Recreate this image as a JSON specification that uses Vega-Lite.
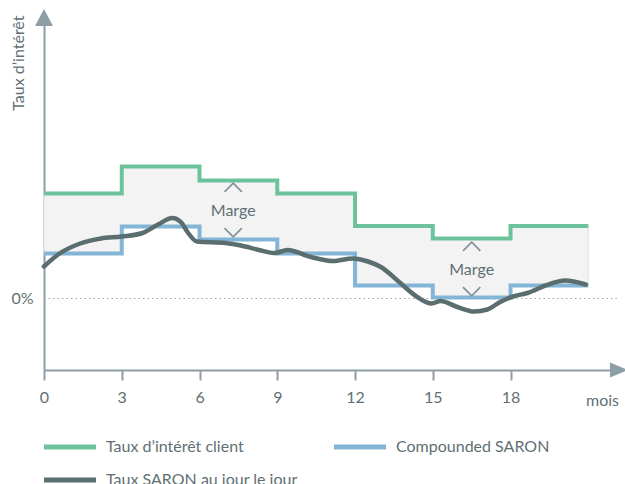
{
  "$schema": "https://vega.github.io/schema/vega-lite/v6.json",
  "width": 578,
  "height": 358,
  "autosize": {"type": "none"},
  "padding": {"left": 44, "top": 12, "right": 3, "bottom": 114},
  "config": {"view": {"stroke": null}, "font": "Lato"},
  "datasets": {
    "steps": [
      {"mois": 0, "Taux d’intérêt client": 10.5, "Compounded SARON": 4.5},
      {"mois": 3, "Taux d’intérêt client": 13.2, "Compounded SARON": 7.2},
      {"mois": 6, "Taux d’intérêt client": 11.8, "Compounded SARON": 5.9},
      {"mois": 9, "Taux d’intérêt client": 10.5, "Compounded SARON": 4.5},
      {"mois": 12, "Taux d’intérêt client": 7.25, "Compounded SARON": 1.3},
      {"mois": 15, "Taux d’intérêt client": 6.0, "Compounded SARON": 0.1},
      {"mois": 18, "Taux d’intérêt client": 7.25, "Compounded SARON": 1.3},
      {"mois": 21, "Taux d’intérêt client": 7.25, "Compounded SARON": 1.3}
    ],
    "daily": [
      {"mois": 0, "taux": 3.2},
      {"mois": 0.6, "taux": 4.5},
      {"mois": 1.4, "taux": 5.5},
      {"mois": 2.2, "taux": 6.0},
      {"mois": 3.0, "taux": 6.2},
      {"mois": 3.8, "taux": 6.55},
      {"mois": 4.4, "taux": 7.4},
      {"mois": 4.95, "taux": 8.05},
      {"mois": 5.3, "taux": 7.6},
      {"mois": 5.55, "taux": 6.6},
      {"mois": 5.9, "taux": 5.7},
      {"mois": 7.0, "taux": 5.55},
      {"mois": 7.6, "taux": 5.3},
      {"mois": 8.3, "taux": 4.85},
      {"mois": 8.9, "taux": 4.55},
      {"mois": 9.4, "taux": 4.85},
      {"mois": 10.3, "taux": 4.15},
      {"mois": 11.15, "taux": 3.75},
      {"mois": 11.9, "taux": 4.0},
      {"mois": 12.5, "taux": 3.7},
      {"mois": 13.0, "taux": 3.15},
      {"mois": 13.7, "taux": 1.65},
      {"mois": 14.4, "taux": 0.15},
      {"mois": 14.95, "taux": -0.5},
      {"mois": 15.3, "taux": -0.25},
      {"mois": 15.95, "taux": -0.85},
      {"mois": 16.6, "taux": -1.3},
      {"mois": 17.1, "taux": -1.1},
      {"mois": 17.6, "taux": -0.35},
      {"mois": 18.1, "taux": 0.2},
      {"mois": 18.65, "taux": 0.55},
      {"mois": 19.4, "taux": 1.35},
      {"mois": 20.1, "taux": 1.8},
      {"mois": 20.9, "taux": 1.4}
    ],
    "marge": [
      {"mois": 7.3, "taux": 8.8, "label": "Marge"},
      {"mois": 16.5, "taux": 2.9, "label": "Marge"}
    ],
    "up": [
      {"mois": 7.3, "taux": 11.1},
      {"mois": 16.5, "taux": 5.2}
    ],
    "down": [
      {"mois": 7.3, "taux": 6.6},
      {"mois": 16.5, "taux": 0.7}
    ],
    "zero": [
      {"mois": 0, "fin": 22.1, "taux": 0}
    ],
    "yarrow": [
      {"mois": 0, "taux": 28.05}
    ],
    "xarrow": [
      {"mois": 22.18, "taux": -7.15}
    ]
  },
  "encoding": {
    "x": {
      "field": "mois", "type": "quantitative",
      "scale": {"domain": [0, 22.3], "nice": false, "zero": false},
      "axis": {
        "values": [0, 3, 6, 9, 12, 15, 18], "format": "d", "grid": false, "labelFlush": false,
        "tickSize": 10, "tickWidth": 2, "tickColor": "#8d9ea6", "domainColor": "#8d9ea6", "domainWidth": 2,
        "labelFontSize": 16, "labelColor": "#5f7073", "labelFont": "Lato", "labelPadding": 9,
        "title": "mois", "titleX": 558, "titleY": 30, "titleAlign": "center", "titleBaseline": "middle",
        "titleFontSize": 16, "titleFontWeight": "normal", "titleColor": "#5f7073", "titleFont": "Lato"
      }
    },
    "y": {
      "field": "taux", "type": "quantitative",
      "scale": {"domain": [-7.15, 28.65], "nice": false, "zero": false},
      "axis": {
        "values": [0], "labelExpr": "'0%'", "ticks": false, "grid": false,
        "domainColor": "#8d9ea6", "domainWidth": 2,
        "labelFontSize": 16, "labelColor": "#5f7073", "labelFont": "Lato", "labelPadding": 11,
        "title": "Taux d’intérêt", "titleAngle": 270, "titleX": -26, "titleY": 3, "titleAlign": "right",
        "titleBaseline": "middle", "titleFontSize": 16, "titleFontWeight": "normal", "titleColor": "#5f7073", "titleFont": "Lato"
      }
    }
  },
  "layer": [
    {
      "data": {"name": "zero"},
      "mark": {"type": "rule", "color": "#9aa8ad", "strokeWidth": 1, "strokeDash": [1.5, 3]},
      "encoding": {
        "x2": {"field": "fin"}
      }
    },
    {
      "data": {"name": "steps"},
      "mark": {"type": "area", "interpolate": "step-after", "fill": "#f3f3f3", "stroke": "#e2e2e2", "strokeWidth": 1},
      "encoding": {
        "y": {"field": "Taux d’intérêt client", "type": "quantitative", "scale": {"domain": [-7.15, 28.65], "nice": false, "zero": false}},
        "y2": {"field": "Compounded SARON"}
      }
    },
    {
      "data": {"name": "steps"},
      "transform": [{"fold": ["Taux d’intérêt client", "Compounded SARON"], "as": ["series", "taux"]}],
      "mark": {"type": "line", "interpolate": "step-after", "strokeWidth": 4},
      "encoding": {
        "color": {
          "field": "series", "type": "nominal",
          "scale": {"domain": ["Taux d’intérêt client", "Compounded SARON", "Taux SARON au jour le jour"], "range": ["#6cc39b", "#83b6d6", "#5a6e6f"]},
          "legend": {
            "orient": "none", "legendX": 0, "legendY": 427, "columns": 2, "direction": "horizontal",
            "title": null, "symbolType": "M -6 0 L 6 0", "symbolSize": 75, "symbolStrokeWidth": 5, "symbolOffset": 18,
            "labelFontSize": 16, "labelColor": "#5f7073", "labelFont": "Lato", "labelOffset": 28,
            "rowPadding": 13, "columnPadding": 26, "labelLimit": 400
          }
        }
      }
    },
    {
      "data": {"name": "daily"},
      "mark": {"type": "line", "interpolate": "monotone", "strokeWidth": 4.5, "strokeCap": "round"},
      "encoding": {
        "color": {
          "datum": "Taux SARON au jour le jour", "type": "nominal",
          "scale": {"domain": ["Taux d’intérêt client", "Compounded SARON", "Taux SARON au jour le jour"], "range": ["#6cc39b", "#83b6d6", "#5a6e6f"]}
        }
      }
    },
    {
      "data": {"name": "marge"},
      "mark": {"type": "text", "fontSize": 16, "color": "#5f7073", "font": "Lato", "baseline": "middle"},
      "encoding": {
        "text": {"field": "label"}
      }
    },
    {
      "data": {"name": "up"},
      "mark": {"type": "point", "shape": "M -1 0.5 L 0 -0.5 L 1 0.5", "filled": false, "stroke": "#7d8f98", "strokeWidth": 1.6, "size": 300, "opacity": 1}
    },
    {
      "data": {"name": "down"},
      "mark": {"type": "point", "shape": "M -1 -0.5 L 0 0.5 L 1 -0.5", "filled": false, "stroke": "#7d8f98", "strokeWidth": 1.6, "size": 300, "opacity": 1}
    },
    {
      "data": {"name": "yarrow"},
      "mark": {"type": "point", "shape": "M -1 0.9 L 0 -1 L 1 0.9 Z", "filled": true, "color": "#8d9ea6", "size": 320, "opacity": 1}
    },
    {
      "data": {"name": "xarrow"},
      "mark": {"type": "point", "shape": "M -1 -0.85 L 1 0 L -1 0.85 Z", "filled": true, "color": "#8d9ea6", "size": 320, "opacity": 1}
    }
  ]
}
